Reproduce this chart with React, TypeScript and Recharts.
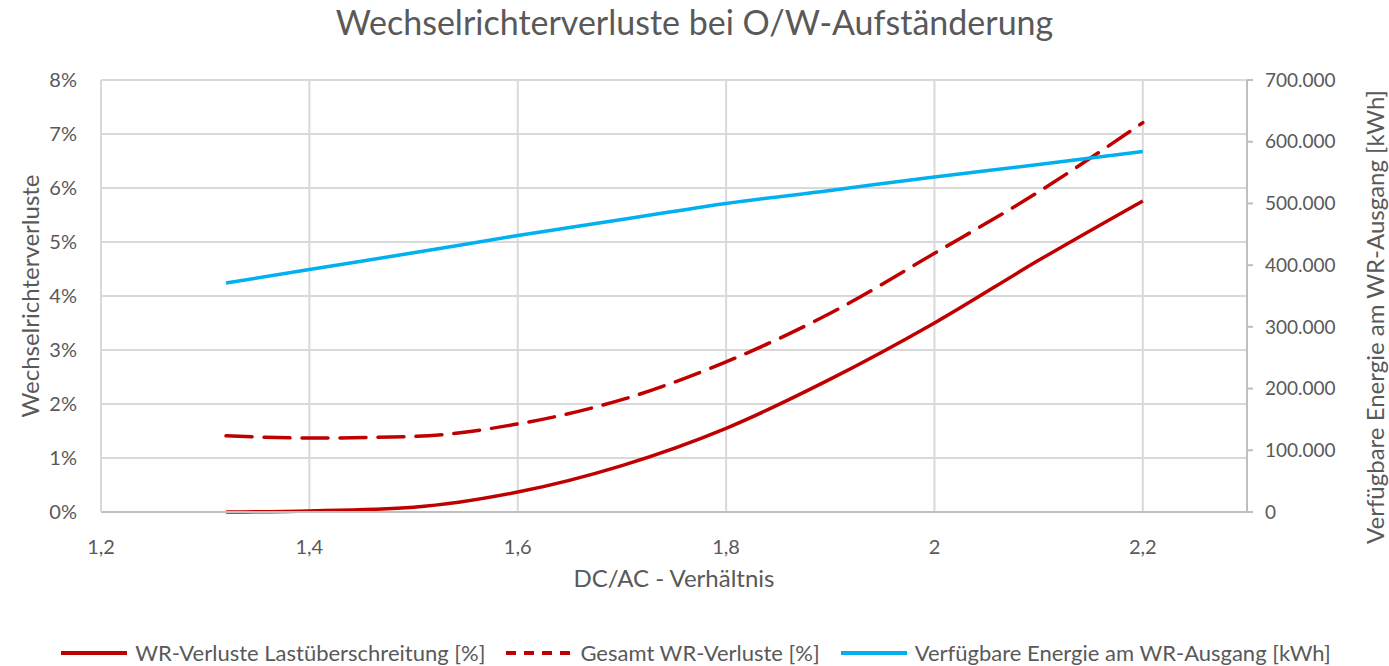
import React from 'react';
import {
  LineChart,
  Line,
  XAxis,
  YAxis,
  CartesianGrid,
  Legend,
  Label,
} from 'recharts';

const ratios = [1.32, 1.4, 1.5, 1.6, 1.7, 1.8, 1.9, 2.0, 2.1, 2.2];
const overloadLoss = [0, 0.02, 0.09, 0.37, 0.86, 1.55, 2.46, 3.5, 4.66, 5.76];
const totalLoss = [1.41, 1.37, 1.4, 1.63, 2.08, 2.78, 3.68, 4.79, 5.93, 7.21];
const energyOut = [371000, 393000, 420000, 448000, 474000, 500000, 521000, 543000, 563000, 584000];

const xTicks = [1.2, 1.4, 1.6, 1.8, 2.0, 2.2];
const leftTicks = [0, 1, 2, 3, 4, 5, 6, 7, 8];
const rightTicks = [0, 100000, 200000, 300000, 400000, 500000, 600000, 700000];

const seriesNames = [
  'WR-Verluste Lastüberschreitung [%]',
  'Gesamt WR-Verluste [%]',
  'Verfügbare Energie am WR-Ausgang [kWh]',
];

const data = ratios.map((r, i) => ({
  ratio: r,
  overload: overloadLoss[i],
  total: totalLoss[i],
  energy: energyOut[i],
}));

const FONT = 'Lato, "Noto Sans", sans-serif';
const TEXT = '#595959';
const RED = '#c00000';
const BLUE = '#00b0f0';

const fmtDe = (v: number) => String(v).replace(/\B(?=(\d{3})+(?!\d))/g, '.');

// rotated axis title, centred at (cx, cy)
const vLabel = (text: string, cx: number, cy: number) => () => (
  <text
    x={cx}
    y={cy}
    transform={`rotate(-90, ${cx}, ${cy})`}
    textAnchor="middle"
    dominantBaseline="central"
    fill={TEXT}
    fontSize={24}
    fontFamily={FONT}
  >
    {text}
  </text>
);

const LegendContent = () => {
  const items = [
    { name: seriesNames[0], color: RED, dash: undefined },
    { name: seriesNames[1], color: RED, dash: '10 8' },
    { name: seriesNames[2], color: BLUE, dash: undefined },
  ];
  return (
    <div
      style={{
        display: 'flex',
        justifyContent: 'center',
        alignItems: 'flex-end',
        height: 54,
        fontFamily: FONT,
        fontSize: 22,
        color: TEXT,
      }}
    >
      {items.map((it) => (
        <div key={it.name} style={{ display: 'flex', alignItems: 'center', margin: '0 9px' }}>
          <svg width={72} height={10} style={{ marginRight: 5 }}>
            <line
              x1={3}
              y1={5}
              x2={69}
              y2={5}
              stroke={it.color}
              strokeWidth={4}
              strokeDasharray={it.dash}
            />
          </svg>
          <span>{it.name}</span>
        </div>
      ))}
    </div>
  );
};

export default function App() {
  return (
    <div style={{ position: 'absolute', left: 0, top: 0, width: 1389, height: 666, background: '#fff' }}>
      <div
        style={{
          position: 'absolute',
          top: 1,
          left: 0,
          width: 1389,
          textAlign: 'center',
          fontFamily: FONT,
          fontSize: 34,
          color: TEXT,
        }}
      >
        Wechselrichterverluste bei O/W-Aufständerung
      </div>
      <LineChart
        width={1389}
        height={666}
        data={data}
        margin={{ top: 80, right: 0, left: 0, bottom: 0 }}
        style={{ fontFamily: FONT }}
      >
        <CartesianGrid yAxisId="left" stroke="#d9d9d9" strokeWidth={2} />
        <XAxis
          dataKey="ratio"
          type="number"
          domain={[1.2, 2.3]}
          ticks={xTicks}
          tickFormatter={(v: number) => String(v).replace('.', ',')}
          height={100}
          stroke="#bfbfbf"
          strokeWidth={2}
          tickLine={false}
          tick={{ fill: TEXT, fontSize: 20 }}
          tickMargin={22}
        >
          <Label value="DC/AC - Verhältnis" position="insideTop" offset={58} fill={TEXT} fontSize={24} />
        </XAxis>
        <YAxis
          yAxisId="left"
          domain={[0, 8]}
          ticks={leftTicks}
          tickFormatter={(v: number) => `${v}%`}
          width={101}
          stroke="#d9d9d9"
          strokeWidth={2}
          tickLine={false}
          tick={{ fill: TEXT, fontSize: 20 }}
          tickMargin={18}
        >
          <Label content={vLabel('Wechselrichterverluste', 29, 296)} />
        </YAxis>
        <YAxis
          yAxisId="right"
          orientation="right"
          domain={[0, 700000]}
          ticks={rightTicks}
          tickFormatter={fmtDe}
          width={142}
          stroke="#bfbfbf"
          strokeWidth={2}
          tickSize={6}
          tick={{ fill: TEXT, fontSize: 19, textAnchor: 'start' }}
          tickMargin={12}
        >
          <Label content={vLabel('Verfügbare Energie am WR-Ausgang [kWh]', 1374, 317)} />
        </YAxis>
        <Legend verticalAlign="bottom" height={54} content={<LegendContent />} />
        <Line
          yAxisId="left"
          type="monotone"
          dataKey="overload"
          name={seriesNames[0]}
          stroke={RED}
          strokeWidth={3.5}
          dot={false}
          isAnimationActive={false}
        />
        <Line
          yAxisId="left"
          type="monotone"
          dataKey="total"
          name={seriesNames[1]}
          stroke={RED}
          strokeWidth={3.5}
          strokeDasharray="26 12"
          strokeLinecap="round"
          dot={false}
          isAnimationActive={false}
        />
        <Line
          yAxisId="right"
          type="monotone"
          dataKey="energy"
          name={seriesNames[2]}
          stroke={BLUE}
          strokeWidth={3.5}
          dot={false}
          isAnimationActive={false}
        />
      </LineChart>
    </div>
  );
}
